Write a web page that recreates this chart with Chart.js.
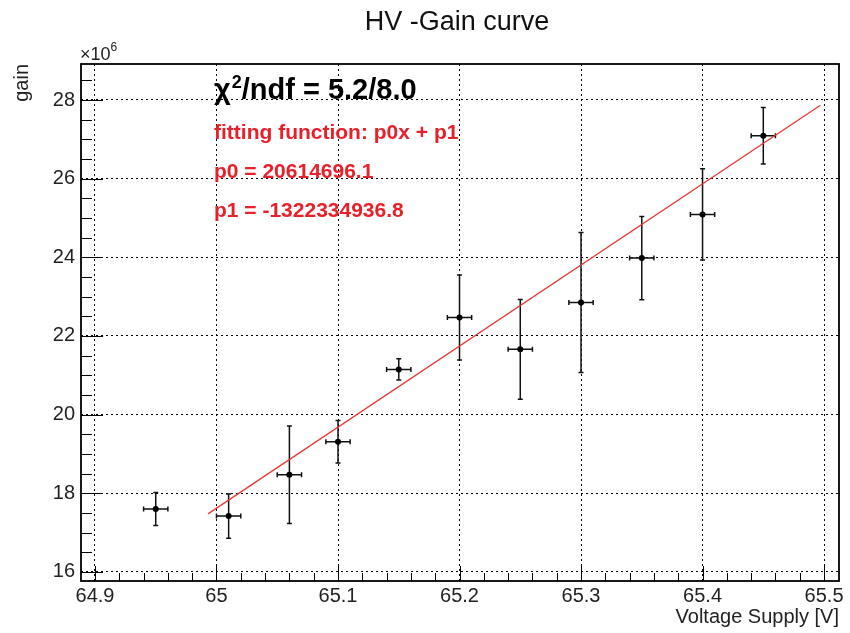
<!DOCTYPE html>
<html>
<head>
<meta charset="utf-8">
<script src="https://cdn.jsdelivr.net/npm/chart.js@4.4.1/dist/chart.umd.min.js"></script>
<style>
  html, body { margin: 0; padding: 0; background: #fff; }
  canvas { display: block; }
</style>
</head>
<body>
<canvas id="c" width="850" height="633"></canvas>
<script>
// Measured points: supply voltage [V] and gain (in units of 1e6)
const voltage    = [64.95, 65.01, 65.06, 65.10, 65.15, 65.20, 65.25, 65.30, 65.35, 65.40, 65.45];
const voltageErr = [0.01, 0.01, 0.01, 0.01, 0.01, 0.01, 0.01, 0.01, 0.01, 0.01, 0.01];
const gain       = [17.60, 17.42, 18.47, 19.31, 21.15, 22.47, 21.66, 22.85, 23.98, 25.09, 27.09];
const gainErr    = [0.42, 0.56, 1.24, 0.54, 0.27, 1.08, 1.27, 1.78, 1.06, 1.16, 0.72];

// Axis tick labels
const xTicks = [64.9, 65.0, 65.1, 65.2, 65.3, 65.4, 65.5];
const yTicks = [16, 18, 20, 22, 24, 26, 28];

// Linear fit result: gain = p0 * V + p1
const fitP0 = 20614696.1;
const fitP1 = -1322334936.8;
const fitRange = [64.993, 65.497];
const chi2 = 5.2;
const ndf = 8.0;
const gainUnit = 1e6;

const FONT = "'Liberation Sans', Arial, Helvetica, sans-serif";

const fitLine = fitRange.map(v => ({ x: v, y: (fitP0 * v + fitP1) / gainUnit }));
const points = voltage.map((v, i) => ({ x: v, y: gain[i] }));

// Error bars with small end caps, drawn under the markers
const errorBars = {
  id: 'errorBars',
  beforeDatasetsDraw(chart) {
    const { ctx, scales: { x, y } } = chart;
    const cap = 2.5;
    ctx.save();
    ctx.strokeStyle = '#111';
    ctx.lineWidth = 1.5;
    voltage.forEach((v, i) => {
      const px = x.getPixelForValue(v);
      const py = y.getPixelForValue(gain[i]);
      const yTop = y.getPixelForValue(gain[i] + gainErr[i]);
      const yBot = y.getPixelForValue(gain[i] - gainErr[i]);
      const xL = x.getPixelForValue(v - voltageErr[i]);
      const xR = x.getPixelForValue(v + voltageErr[i]);
      ctx.beginPath();
      ctx.moveTo(px, yTop); ctx.lineTo(px, yBot);
      ctx.moveTo(px - cap, yTop); ctx.lineTo(px + cap, yTop);
      ctx.moveTo(px - cap, yBot); ctx.lineTo(px + cap, yBot);
      ctx.moveTo(xL, py); ctx.lineTo(xR, py);
      ctx.moveTo(xL, py - cap); ctx.lineTo(xL, py + cap);
      ctx.moveTo(xR, py - cap); ctx.lineTo(xR, py + cap);
      ctx.stroke();
    });
    ctx.restore();
  }
};

// Frame, inward tick marks, title and fit annotations
const decorations = {
  id: 'decorations',
  afterDraw(chart) {
    const { ctx, chartArea: a, scales: { x, y } } = chart;
    ctx.save();

    // inward ticks on the bottom axis (minor every 0.02)
    ctx.strokeStyle = '#000';
    ctx.lineWidth = 1;
    ctx.beginPath();
    for (let k = Math.ceil(x.min * 50 - 1e-6); k <= Math.floor(x.max * 50 + 1e-6); k++) {
      const px = Math.round(x.getPixelForValue(k / 50)) + 0.5;
      const len = (k % 5 === 0) ? 15 : 8;
      ctx.moveTo(px, a.bottom); ctx.lineTo(px, a.bottom - len);
    }
    // inward ticks on the left axis (minor every 0.5)
    for (let k = Math.ceil(y.min * 2 - 1e-6); k <= Math.floor(y.max * 2 + 1e-6); k++) {
      const py = Math.round(y.getPixelForValue(k / 2)) + 0.5;
      const len = (k % 4 === 0) ? 22 : 11;
      ctx.moveTo(a.left, py); ctx.lineTo(a.left + len, py);
    }
    ctx.stroke();

    // frame
    ctx.lineWidth = 1.8;
    ctx.strokeRect(a.left, a.top, a.right - a.left, a.bottom - a.top);

    // title
    ctx.fillStyle = '#111';
    ctx.textBaseline = 'alphabetic';
    ctx.textAlign = 'center';
    ctx.font = `27px ${FONT}`;
    ctx.fillText('HV -Gain curve', 457, 30);

    // axis exponent
    ctx.textAlign = 'left';
    ctx.fillStyle = '#222';
    ctx.font = `18px ${FONT}`;
    ctx.fillText('\u00d710', 80, 60);
    const w10 = ctx.measureText('\u00d710').width;
    ctx.font = `12px ${FONT}`;
    ctx.fillText('6', 80 + w10, 51);

    // chi2 / ndf
    const tx = 214;
    ctx.fillStyle = '#000';
    ctx.font = `bold 29px ${FONT}`;
    ctx.fillText('\u03c7', tx, 99);
    let cx = tx + ctx.measureText('\u03c7').width + 1;
    ctx.font = `bold 18px ${FONT}`;
    ctx.fillText('2', cx, 88);
    cx += ctx.measureText('2').width;
    ctx.font = `bold 29px ${FONT}`;
    ctx.fillText(`/ndf = ${chi2.toFixed(1)}/${ndf.toFixed(1)}`, cx, 99);

    // fit function and parameters
    ctx.fillStyle = '#e8202a';
    ctx.font = `bold 21px ${FONT}`;
    ctx.fillText('fitting function: p0x + p1', tx, 139);
    ctx.fillText(`p0 = ${fitP0.toFixed(1)}`, tx, 178);
    ctx.fillText(`p1 = ${fitP1.toFixed(1)}`, tx, 217);

    ctx.restore();
  }
};

const tickFont = { family: FONT, size: 20 };

new Chart(document.getElementById('c'), {
  type: 'scatter',
  data: {
    datasets: [
      {
        label: 'fit',
        data: fitLine,
        showLine: true,
        borderColor: '#e53935',
        borderWidth: 1.3,
        pointRadius: 0,
        fill: false,
        order: 2
      },
      {
        label: 'gain',
        data: points,
        pointRadius: 3,
        pointBackgroundColor: '#000',
        pointBorderColor: '#000',
        pointBorderWidth: 0,
        order: 1
      }
    ]
  },
  options: {
    responsive: false,
    animation: false,
    devicePixelRatio: 1,
    layout: { padding: { left: 0, right: 11, top: 64, bottom: 0 } },
    plugins: {
      legend: { display: false },
      tooltip: { enabled: false },
      title: { display: false }
    },
    scales: {
      x: {
        type: 'linear',
        min: 64.8885,
        max: 65.5123,
        afterBuildTicks: s => { s.ticks = xTicks.map(v => ({ value: v })); },
        afterFit: s => { s.height = 52; },
        ticks: {
          callback: v => String(+Number(v).toFixed(1)),
          font: tickFont,
          color: '#222',
          padding: 3,
          maxRotation: 0,
          autoSkip: false
        },
        grid: { color: '#000', lineWidth: 1, drawTicks: false },
        border: { display: false, dash: [2, 3] },
        title: {
          display: true,
          text: 'Voltage Supply [V]',
          align: 'end',
          color: '#222',
          font: { family: FONT, size: 20 },
          padding: { top: 0, bottom: 4 }
        }
      },
      y: {
        type: 'linear',
        min: 15.77,
        max: 28.915,
        afterBuildTicks: s => { s.ticks = yTicks.map(v => ({ value: v })); },
        afterFit: s => { s.width = 81; },
        ticks: {
          callback: v => String(v),
          font: tickFont,
          color: '#222',
          padding: 6,
          autoSkip: false
        },
        grid: { color: '#000', lineWidth: 1, drawTicks: false },
        border: { display: false, dash: [2, 3] },
        title: {
          display: true,
          text: 'gain',
          align: 'end',
          color: '#222',
          font: { family: FONT, size: 20 },
          padding: { top: 10, bottom: 0 }
        }
      }
    }
  },
  plugins: [errorBars, decorations]
});
</script>
</body>
</html>
